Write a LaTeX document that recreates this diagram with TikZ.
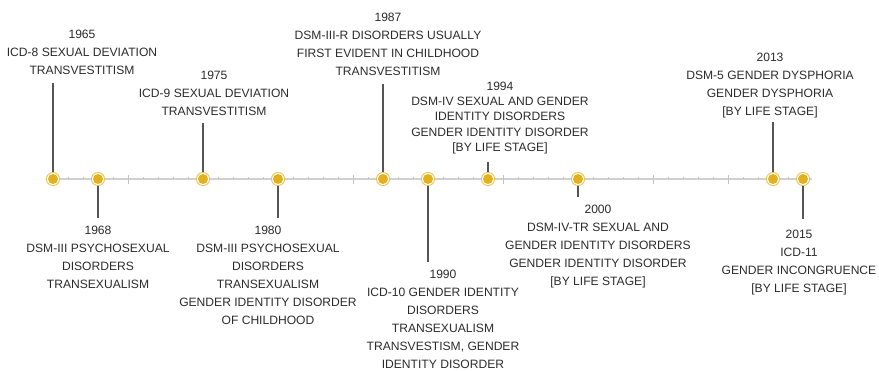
\documentclass[tikz,border=0pt]{standalone}
\usepackage{fontspec}
\setmainfont{Liberation Sans}
\definecolor{gold}{HTML}{E3B11E}
\definecolor{goldring}{HTML}{EBC24F}
\definecolor{axisgrey}{HTML}{D0D0D0}
\definecolor{tickgrey}{HTML}{C4C4C4}
\definecolor{stemgrey}{HTML}{555555}
\definecolor{txt}{HTML}{2B2B2B}
\tikzset{
  lbl/.style={align=center, inner sep=0pt, anchor=north, text=txt,
    font=\fontsize{12.1}{18}\selectfont},
  lbltight/.style={lbl, font=\fontsize{12.1}{15.3}\selectfont},
  stem/.style={draw=stemgrey, line width=1.2pt, shorten >=#1},
  yeardot/.style={circle, inner sep=0pt, minimum size=14pt, fill=goldring,
    path picture={
      \fill[white] (path picture bounding box.center) circle (6pt);
      \fill[gold] (path picture bounding box.center) circle (5pt);
    }},
}
\begin{document}
\begin{tikzpicture}[x=1pt, y=-1pt]
\useasboundingbox (0,0) rectangle (879,370);

% year positions on the axis: 15pt per year, 1965 at x=53
\foreach \yr in {1965,1968,1975,1980,1987,1990,1994,2000,2013,2015}
  \coordinate (p\yr) at ({53+15*(\yr-1965)},179);
\coordinate (axL) at (53,179);
\coordinate (axR) at (812,179);

% axis with yearly and five-yearly ticks
\draw[axisgrey, line width=1.5pt] (axL) -- (axR);
\foreach \k in {1,...,50}
  \draw[tickgrey, line width=0.8pt] ({53+15*\k},179) -- ({53+15*\k},176.5);
\foreach \k in {1,...,10}
  \draw[tickgrey, line width=0.8pt] ({53+75*\k},174.5) -- ({53+75*\k},183.5);

% labels above the axis
\node[lbl] (l1965) at (82,29.7) {1965\\ICD-8 SEXUAL DEVIATION\\TRANSVESTITISM};
\node[lbl] (l1975) at (214,70.7) {1975\\ICD-9 SEXUAL DEVIATION\\TRANSVESTITISM};
\node[lbl] (l1987) at (388,12.7) {1987\\DSM-III-R DISORDERS USUALLY\\FIRST EVIDENT IN CHILDHOOD\\TRANSVESTITISM};
\node[lbltight] (l1994) at (500,81.7) {1994\\DSM-IV SEXUAL AND GENDER\\IDENTITY DISORDERS\\GENDER IDENTITY DISORDER\\{[}BY LIFE STAGE{]}};
\node[lbl] (l2013) at (770,52.7) {2013\\DSM-5 GENDER DYSPHORIA\\GENDER DYSPHORIA\\{[}BY LIFE STAGE{]}};

% labels below the axis
\node[lbl] (l1968) at (98,225.7) {1968\\DSM-III PSYCHOSEXUAL\\DISORDERS\\TRANSEXUALISM};
\node[lbl] (l1980) at (268,225.7) {1980\\DSM-III PSYCHOSEXUAL\\DISORDERS\\TRANSEXUALISM\\GENDER IDENTITY DISORDER\\OF CHILDHOOD};
\node[lbl] (l1990) at (443,269.7) {1990\\ICD-10 GENDER IDENTITY\\DISORDERS\\TRANSEXUALISM\\TRANSVESTISM, GENDER\\IDENTITY DISORDER};
\node[lbl] (l2000) at (598,204.7) {2000\\DSM-IV-TR SEXUAL AND\\GENDER IDENTITY DISORDERS\\GENDER IDENTITY DISORDER\\{[}BY LIFE STAGE{]}};
\node[lbl] (l2015) at (799,229.7) {2015\\ICD-11\\GENDER INCONGRUENCE\\{[}BY LIFE STAGE{]}};

% stems from the axis to the labels
\draw[stem=8.8pt] (p1965) -- (p1965 |- l1965.south);
\draw[stem=7pt]   (p1975) -- (p1975 |- l1975.south);
\draw[stem=8.8pt] (p1987) -- (p1987 |- l1987.south);
\draw[stem=7.3pt] (p1994) -- (p1994 |- l1994.south);
\draw[stem=4.3pt] (p2013) -- (p2013 |- l2013.south);
\draw[stem=7.8pt] (p1968) -- (p1968 |- l1968.north);
\draw[stem=7.8pt] (p1980) -- (p1980 |- l1980.north);
\draw[stem=7.8pt] (p1990) -- (p1990 |- l1990.north);
\draw[stem=7.8pt] (p2000) -- (p2000 |- l2000.north);
\draw[stem=10.8pt] (p2015) -- (p2015 |- l2015.north);

% year markers on top
\foreach \yr in {1965,1968,1975,1980,1987,1990,1994,2000,2013,2015}
  \node[yeardot] (d\yr) at (p\yr) {};
\end{tikzpicture}
\end{document}
